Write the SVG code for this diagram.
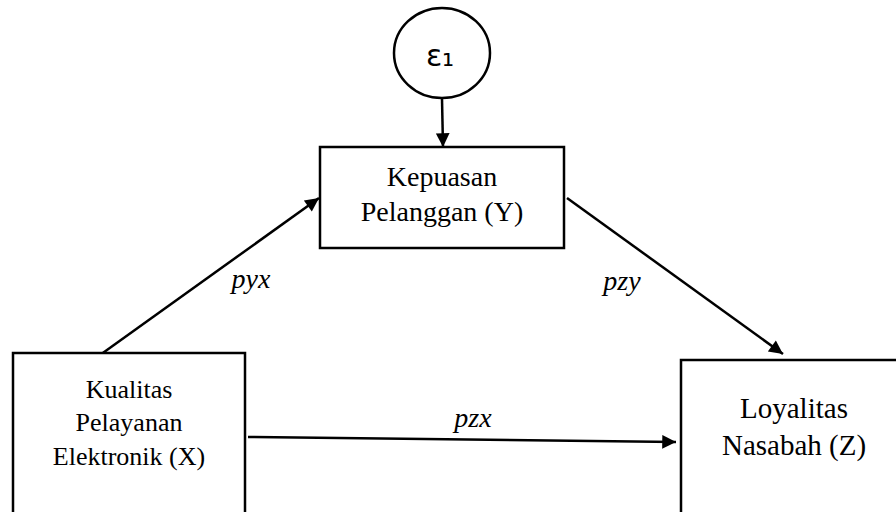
<svg xmlns="http://www.w3.org/2000/svg" width="896" height="512" viewBox="0 0 896 512">
<style>
.box{fill:#fff;stroke:#000;stroke-width:2.5}
.t{font-family:'Liberation Serif',serif;fill:#000;text-anchor:middle}
.lbl{font-family:'Liberation Serif',serif;font-style:italic;font-size:28px;fill:#000;text-anchor:middle}
.c{stroke:#000;stroke-width:2.5;fill:none;marker-end:url(#ah)}
</style>
<defs>
<marker id="ah" viewBox="0 0 10 10" refX="10" refY="5" markerWidth="6.5" markerHeight="5.5" markerUnits="strokeWidth" orient="auto">
<path d="M0,0 L10,5 L0,10 z" fill="#000"/>
</marker>
</defs>
<rect width="896" height="512" fill="#fff"/>
<g id="connectors">
<line class="c" x1="442" y1="99" x2="443" y2="147"/>
<line class="c" x1="100" y1="355" x2="319" y2="198"/>
<line class="c" x1="567" y1="198" x2="783" y2="354"/>
<line class="c" x1="248" y1="437" x2="676" y2="442"/>
</g>
<g id="e1">
<ellipse cx="442" cy="53" rx="48" ry="45" fill="#fff" stroke="#000" stroke-width="2.5"/>
<text x="440" y="66" font-family="'DejaVu Sans', sans-serif" font-size="30" text-anchor="middle">ε₁</text>
</g>
<g id="Y">
<rect class="box" x="320" y="147" width="244" height="101"/>
<text class="t" font-size="28" x="442" y="186">Kepuasan</text>
<text class="t" font-size="28" x="442" y="221">Pelanggan (Y)</text>
</g>
<g id="X">
<rect class="box" x="13" y="353" width="232" height="180"/>
<text class="t" font-size="26" x="129" y="398">Kualitas</text>
<text class="t" font-size="26" x="129" y="431">Pelayanan</text>
<text class="t" font-size="26" x="129" y="465">Elektronik (X)</text>
</g>
<g id="Z">
<rect class="box" x="681" y="360" width="230" height="180"/>
<text class="t" font-size="29" x="794" y="418">Loyalitas</text>
<text class="t" font-size="29" x="794" y="455">Nasabah (Z)</text>
</g>
<g id="labels">
<text class="lbl" x="251" y="288">pyx</text>
<text class="lbl" x="622" y="290">pzy</text>
<text class="lbl" x="473" y="427">pzx</text>
</g>
</svg>
